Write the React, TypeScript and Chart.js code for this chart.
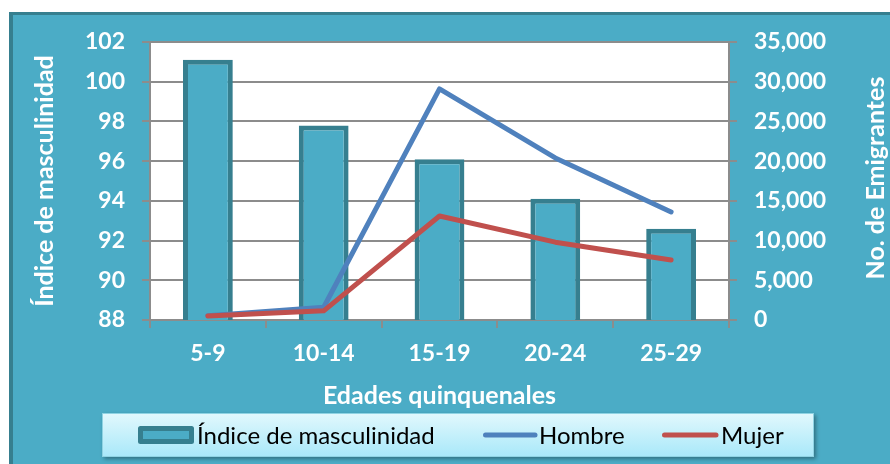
import React, { useEffect, useRef } from 'react';
import { Chart, registerables } from 'chart.js';

Chart.register(...registerables);

const categories = ['5-9', '10-14', '15-19', '20-24', '25-29'];
const indiceMasculinidad = [101.1, 97.8, 96.1, 94.1, 92.6];
const hombre = [550, 1600, 29100, 20400, 13600];
const mujer = [500, 1150, 13100, 9800, 7550];

const seriesLabels = ['Índice de masculinidad', 'Hombre', 'Mujer'];
const leftAxisTitle = 'Índice de masculinidad';
const rightAxisTitle = 'No. de Emigrantes';
const xAxisTitle = 'Edades quinquenales';

const LEFT_MIN = 88;
const LEFT_MAX = 102;
const LEFT_STEP = 2;
const RIGHT_MIN = 0;
const RIGHT_MAX = 35000;
const RIGHT_STEP = 5000;

const TEAL = '#4bacc6';
const DARK_TEAL = '#367f8f';
const BLUE = '#4f81bd';
const RED = '#c0504d';
const GRID = '#8c8c8c';
const FONT = 'Lato';
const TITLE_SIZE = 25;

const framePlugin = {
  id: 'frame',
  beforeDraw(chart: any) {
    const { ctx, width, height, chartArea } = chart;
    ctx.save();
    ctx.fillStyle = '#ffffff';
    ctx.fillRect(0, 0, width, height);
    ctx.fillStyle = TEAL;
    ctx.fillRect(9, 12, width - 9, height - 12);
    ctx.fillStyle = DARK_TEAL;
    ctx.fillRect(9, 12, width - 9, 3);
    ctx.fillRect(9, 12, 4, height - 12);
    ctx.fillStyle = '#ffffff';
    ctx.fillRect(chartArea.left, chartArea.top, chartArea.right - chartArea.left, chartArea.bottom - chartArea.top);
    ctx.restore();
  },
  afterDraw(chart: any) {
    // right axis title, reading bottom-to-top like the left one
    const { ctx } = chart;
    const s = chart.scales.y1;
    ctx.save();
    ctx.font = `bold ${TITLE_SIZE}px ${FONT}`;
    ctx.fillStyle = '#ffffff';
    ctx.textAlign = 'center';
    ctx.textBaseline = 'middle';
    ctx.translate(s.right - 14, chart.chartArea.top + 136);
    ctx.rotate(-Math.PI / 2);
    ctx.fillText(rightAxisTitle, 0, 0);
    ctx.restore();
  },
};

const legendPlugin = {
  id: 'boxLegend',
  afterDraw(chart: any) {
    const { ctx } = chart;
    const ds = chart.data.datasets;
    const bx = 102, by = 413, bw = 712, bh = 44;
    const cy = by + bh / 2;
    ctx.save();
    ctx.shadowColor = 'rgba(0,0,0,0.35)';
    ctx.shadowBlur = 4;
    ctx.shadowOffsetX = 2;
    ctx.shadowOffsetY = 2;
    const g = ctx.createLinearGradient(0, by, 0, by + bh);
    g.addColorStop(0, '#e2f8fd');
    g.addColorStop(1, '#a8e8f9');
    ctx.fillStyle = g;
    ctx.fillRect(bx, by, bw, bh);
    ctx.restore();

    ctx.save();
    ctx.strokeStyle = '#8fd3e3';
    ctx.lineWidth = 1;
    ctx.strokeRect(bx + 0.5, by + 0.5, bw - 1, bh - 1);

    ctx.font = `24px ${FONT}`;
    ctx.fillStyle = '#000000';
    ctx.textBaseline = 'middle';
    ctx.textAlign = 'left';

    ctx.fillStyle = ds[0].backgroundColor;
    ctx.fillRect(140.5, cy - 7, 51, 14);
    ctx.strokeStyle = ds[0].borderColor;
    ctx.lineWidth = 5;
    ctx.lineJoin = 'round';
    ctx.strokeRect(140.5, cy - 6.5, 51, 13);
    ctx.fillStyle = '#000000';
    ctx.fillText(ds[0].label, 197, cy + 1);

    const lineItem = (i: number, x0: number, x1: number, tx: number) => {
      ctx.strokeStyle = ds[i].borderColor;
      ctx.lineWidth = 5;
      ctx.lineCap = 'round';
      ctx.beginPath();
      ctx.moveTo(x0, cy);
      ctx.lineTo(x1, cy);
      ctx.stroke();
      ctx.fillStyle = '#000000';
      ctx.fillText(ds[i].label, tx, cy + 1);
    };
    lineItem(1, 485.5, 535, 539);
    lineItem(2, 664.5, 716, 721);
    ctx.restore();
  },
};

export default function App() {
  const ref = useRef<HTMLCanvasElement | null>(null);

  useEffect(() => {
    if (!ref.current) return;
    const tickFont = { family: FONT, size: 23, weight: 'bold' as const };
    const titleFont = { family: FONT, size: TITLE_SIZE, weight: 'bold' as const };
    const chart = new Chart(ref.current, {
      type: 'bar',
      data: {
        labels: categories,
        datasets: [
          {
            type: 'bar',
            label: seriesLabels[0],
            data: indiceMasculinidad,
            yAxisID: 'y',
            backgroundColor: TEAL,
            borderColor: DARK_TEAL,
            borderWidth: 5,
            borderSkipped: false,
            categoryPercentage: 1,
            barPercentage: 0.43,
            order: 3,
          },
          {
            type: 'line',
            label: seriesLabels[1],
            data: hombre,
            yAxisID: 'y1',
            borderColor: BLUE,
            backgroundColor: BLUE,
            borderWidth: 5,
            borderCapStyle: 'round',
            borderJoinStyle: 'round',
            pointRadius: 0,
            tension: 0,
            order: 2,
          },
          {
            type: 'line',
            label: seriesLabels[2],
            data: mujer,
            yAxisID: 'y1',
            borderColor: RED,
            backgroundColor: RED,
            borderWidth: 5,
            borderCapStyle: 'round',
            borderJoinStyle: 'round',
            pointRadius: 0,
            tension: 0,
            order: 1,
          },
        ] as any,
      },
      options: {
        responsive: false,
        animation: false,
        devicePixelRatio: 1,
        layout: { padding: { left: 0, right: 0, top: 42, bottom: 0 } },
        plugins: {
          legend: { display: false },
          tooltip: { enabled: false },
        },
        scales: {
          x: {
            offset: true,
            grid: {
              offset: true,
              drawOnChartArea: false,
              drawTicks: true,
              tickLength: 8,
              color: GRID,
              lineWidth: 2,
            },
            border: { display: true, color: GRID, width: 2 },
            ticks: { color: '#ffffff', font: tickFont, padding: 12, maxRotation: 0 },
            title: {
              display: true,
              text: xAxisTitle,
              color: '#ffffff',
              font: titleFont,
              padding: { top: 0, bottom: 53 },
            },
            afterFit: (s: any) => { s.height = 144; },
          },
          y: {
            position: 'left',
            min: LEFT_MIN,
            max: LEFT_MAX,
            ticks: { stepSize: LEFT_STEP, color: '#ffffff', font: tickFont, padding: 17 },
            grid: { color: GRID, lineWidth: 2, tickLength: 8 },
            border: { display: true, color: GRID, width: 2 },
            title: {
              display: true,
              text: leftAxisTitle,
              color: '#ffffff',
              font: titleFont,
              padding: { top: 30, bottom: 0 },
            },
            afterFit: (s: any) => { s.width = 150; },
          },
          y1: {
            position: 'right',
            min: RIGHT_MIN,
            max: RIGHT_MAX,
            ticks: {
              stepSize: RIGHT_STEP,
              color: '#ffffff',
              font: tickFont,
              padding: 17,
              callback: (v: any) => Number(v).toLocaleString('en-US'),
            },
            grid: { drawOnChartArea: false, color: GRID, lineWidth: 2, tickLength: 8 },
            border: { display: true, color: GRID, width: 2 },
            title: { display: false },
            afterFit: (s: any) => { s.width = 161; },
          },
        },
      } as any,
      plugins: [framePlugin, legendPlugin],
    });
    return () => chart.destroy();
  }, []);

  return (
    <div style={{ position: 'fixed', left: 0, top: 0, width: 890, height: 464 }}>
      <canvas ref={ref} width={890} height={464} style={{ display: 'block', width: 890, height: 464 }} />
    </div>
  );
}
